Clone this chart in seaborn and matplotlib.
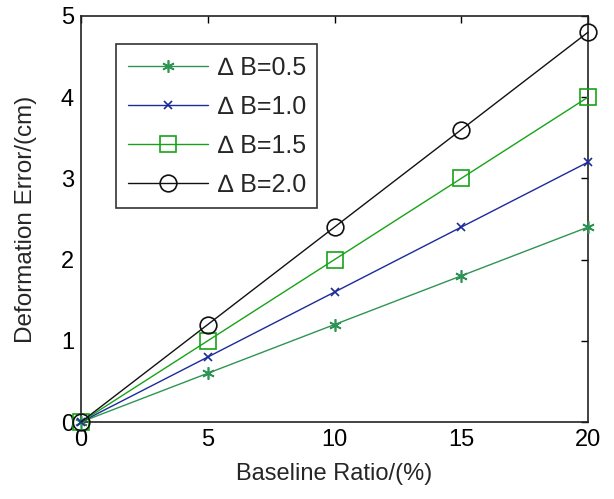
import matplotlib
matplotlib.use("Agg")
import matplotlib.pyplot as plt
import seaborn as sns
import pandas as pd

# Baseline ratio (%) and deformation error (cm) for each ΔB
ratio = [0, 5, 10, 15, 20]
err_05 = [0, 0.6, 1.2, 1.8, 2.4]
err_10 = [0, 0.8, 1.6, 2.4, 3.2]
err_15 = [0, 1.0, 2.0, 3.0, 4.0]
err_20 = [0, 1.2, 2.4, 3.6, 4.8]
labels = ["\u2206 B=0.5", "\u2206 B=1.0", "\u2206 B=1.5", "\u2206 B=2.0"]
x_ticks = [0, 5, 10, 15, 20]
y_ticks = [0, 1, 2, 3, 4, 5]

sns.set_theme(style="white")
plt.rcParams["font.family"] = ["Liberation Sans", "DejaVu Sans"]

df = pd.DataFrame({
    "ratio": ratio * 4,
    "err": err_05 + err_10 + err_15 + err_20,
    "series": [l for l in labels for _ in ratio],
})

colors = {labels[0]: "#2e9453", labels[1]: "#1c2a9c", labels[2]: "#17a317", labels[3]: "#111111"}
markers = {labels[0]: (6, 2, 0), labels[1]: "x", labels[2]: "s", labels[3]: "o"}
sizes = {labels[0]: 9, labels[1]: 6, labels[2]: 11.5, labels[3]: 12}

fig = plt.figure(figsize=(6.14, 4.99), dpi=100)
ax = fig.add_axes([0.1319, 0.1543, 0.8258, 0.8137])

for lab in labels:
    sub = df[df["series"] == lab]
    sns.lineplot(data=sub, x="ratio", y="err", ax=ax, color=colors[lab],
                 marker=markers[lab], markersize=sizes[lab],
                 markerfacecolor="none", markeredgecolor=colors[lab],
                 markeredgewidth=1.2, linewidth=1.0, label=lab, clip_on=False)

ax.set_xlim(0, 20)
ax.set_ylim(0, 5)
ax.set_xticks(x_ticks)
ax.set_yticks(y_ticks)
ax.tick_params(direction="in", length=5, width=1, top=True, right=True,
               labelsize=17, colors="black", pad=5)
for s in ax.spines.values():
    s.set_color("#222222")
    s.set_linewidth(1.2)
    s.set_zorder(1)
ax.set_xlabel("Baseline Ratio/(%)", fontsize=17, labelpad=9)
ax.set_ylabel("Deformation Error/(cm)", fontsize=17.5, labelpad=17)

leg = ax.legend(loc="upper left", bbox_to_anchor=(0.07, 0.93), fontsize=18,
                frameon=True, fancybox=False, edgecolor="black",
                handlelength=3.2, labelspacing=0.6, borderpad=0.45,
                handletextpad=0.4, borderaxespad=0)
leg.get_frame().set_linewidth(1.2)

fig.savefig("out.png", dpi=100)
